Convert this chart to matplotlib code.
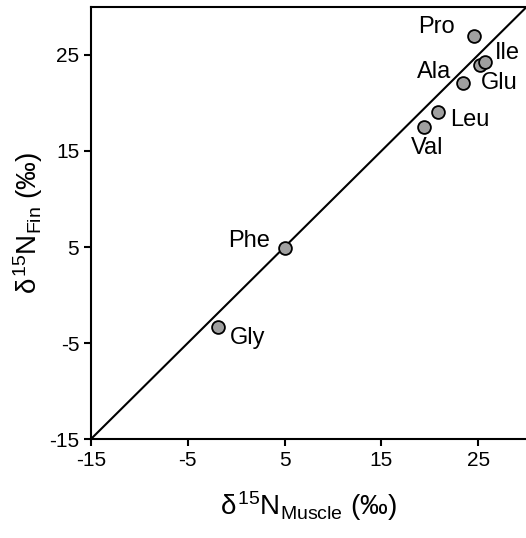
import matplotlib
matplotlib.use("Agg")
from matplotlib import pyplot as plt

plt.rcParams['font.family'] = ['Liberation Sans', 'DejaVu Sans']
plt.rcParams['mathtext.fontset'] = 'custom'
plt.rcParams['mathtext.rm'] = 'Liberation Sans'
plt.rcParams['mathtext.it'] = 'Liberation Sans'
plt.rcParams['axes.unicode_minus'] = False

# amino acid d15N values (muscle vs fin)
amino_acids = ['Pro', 'Ala', 'Ile', 'Glu', 'Leu', 'Val', 'Phe', 'Gly']
muscle = [24.6, 25.2, 25.7, 23.4, 20.9, 19.4, 5.0, -1.9]
fin = [27.0, 24.0, 24.3, 22.1, 19.1, 17.5, 4.9, -3.3]

# label offsets in points (dx, dy) and alignment
label_pos = {
    'Pro': (-14, 6, 'right'),
    'Ala': (-21, -5, 'right'),
    'Ile': (7, 6.5, 'left'),
    'Glu': (13, 0, 'left'),
    'Leu': (8.5, -6, 'left'),
    'Val': (2, -15, 'center'),
    'Phe': (-10.5, 5, 'right'),
    'Gly': (8.5, -8, 'left'),
}

ticks = [-15, -5, 5, 15, 25]

fig = plt.figure(figsize=(5.26, 5.38), dpi=100)
ax = fig.add_axes([0.173, 0.184, 0.828, 0.803])

ax.plot([-15, 30], [-15, 30], color='black', lw=1.5, zorder=1)
ax.scatter(muscle, fin, s=85, facecolor='#a0a0a0', edgecolor='black', linewidth=1.3, zorder=3)

for name, x, y in zip(amino_acids, muscle, fin):
    dx, dy, ha = label_pos[name]
    ax.annotate(name, (x, y), xytext=(dx, dy), textcoords='offset points',
                ha=ha, va='center', fontsize=17)

ax.set_xlim(-15, 30)
ax.set_ylim(-15, 30)
ax.set_xticks(ticks)
ax.set_yticks(ticks)
ax.tick_params(labelsize=15, width=1.5, length=5, direction='out')
ax.spines['right'].set_visible(False)
for side in ['left', 'bottom', 'top']:
    ax.spines[side].set_linewidth(1.5)

ax.set_xlabel(r'$\delta^{15}$N$_{\mathrm{Muscle}}$ (‰)', fontsize=20, labelpad=14)
ax.set_ylabel(r'$\delta^{15}$N$_{\mathrm{Fin}}$ (‰)', fontsize=20, labelpad=3)

fig.savefig('out.png', dpi=100)
